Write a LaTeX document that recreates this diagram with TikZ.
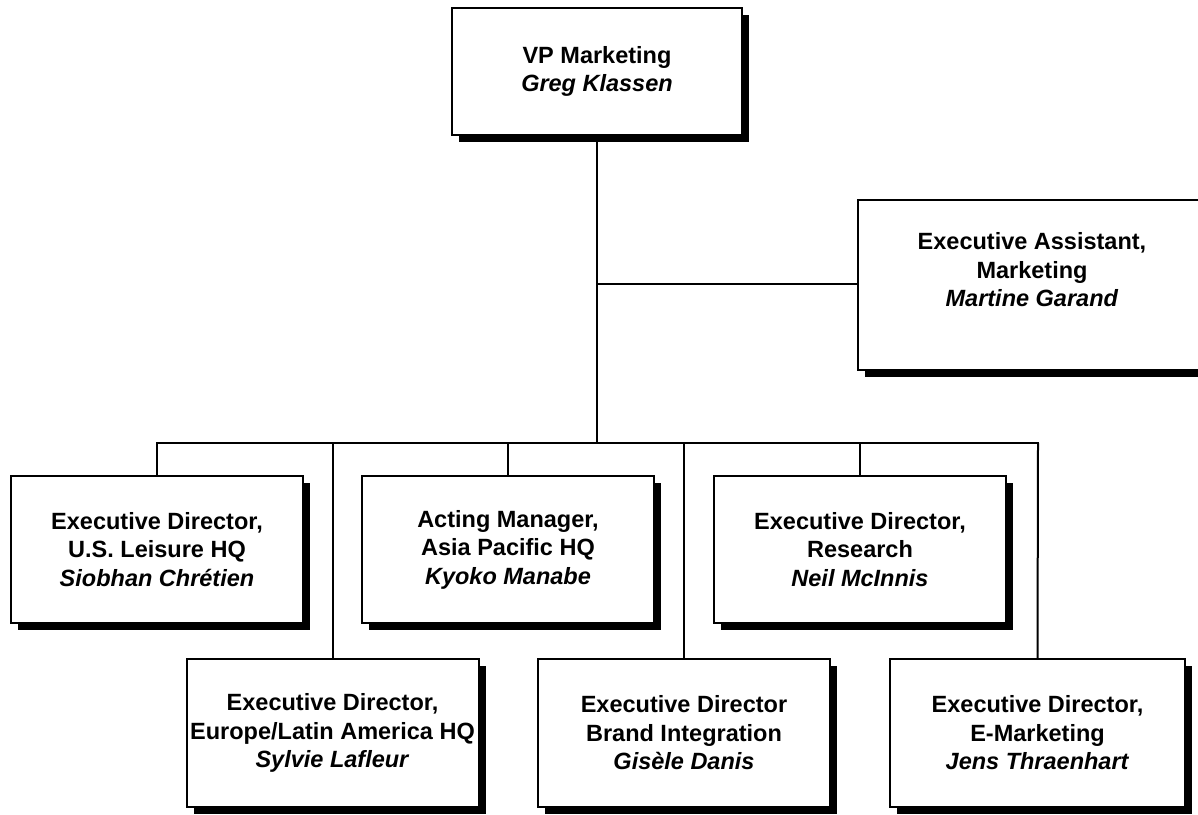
\documentclass[tikz,border=0pt]{standalone}
\usepackage{fontspec}
\setmainfont{Liberation Sans}
\usetikzlibrary{shadows}
\tikzset{
  orgbox/.style={draw=black, line width=2pt, fill=white, rectangle, inner sep=0pt,
    align=center, font=\fontsize{23.5}{28.5}\selectfont\bfseries,
    drop shadow={shadow xshift=7pt, shadow yshift=-7pt, fill=black, opacity=1}},
  orgtext/.style={inner sep=0pt, align=center, font=\fontsize{23.5}{28.5}\selectfont\bfseries},
  link/.style={draw=black, line width=2pt}
}
\newcommand{\who}[1]{\textit{#1}}
\begin{document}
\begin{tikzpicture}[x=1pt,y=-1pt]
\clip (0,0) rectangle (1198,814);
\fill[white] (0,0) rectangle (1198,814);
\coordinate (bus) at (597,443);
\coordinate (busL) at (157,443);
\coordinate (busR) at (1038,443);
\coordinate (ea) at (597,284);
% boxes
\node[orgbox, minimum width=290pt, minimum height=127pt] (vp) at (597,71.5) {VP Marketing\\\who{Greg Klassen}};
\node[orgbox, minimum width=348pt, minimum height=170pt] (asst) at (1032,285) {};
\node[orgtext] (asstText) at (1032,270) {Executive Assistant,\\Marketing\\\who{Martine Garand}};
\node[orgbox, minimum width=292pt, minimum height=147pt] (us) at (157,549.5) {Executive Director,\\U.S. Leisure HQ\\\who{Siobhan Chrétien}};
\node[orgbox, minimum width=292pt, minimum height=147pt] (asia) at (508,549.5) {Acting Manager,\\Asia Pacific HQ\\\who{Kyoko Manabe}};
\node[orgbox, minimum width=292pt, minimum height=147pt] (res) at (860,549.5) {Executive Director,\\Research\\\who{Neil McInnis}};
\node[orgbox, minimum width=292pt, minimum height=148pt] (eu) at (332.5,733) {Executive Director,\\Europe/Latin America HQ\\\who{Sylvie Lafleur}};
\node[orgbox, minimum width=292pt, minimum height=148pt] (brand) at (684,733) {Executive Director\\Brand Integration\\\who{Gisèle Danis}};
\node[orgbox, minimum width=295pt, minimum height=148pt] (emk) at (1037.5,733) {Executive Director,\\E-Marketing\\\who{Jens Thraenhart}};
% connectors
\draw[link] (vp.south) -- (bus);
\draw[link] (ea) -- (asst.west |- ea);
\draw[link, line cap=rect] (busL) -- (busR);
\draw[link] (busL) -- (us.north);
\draw[link] (asia.north |- bus) -- (asia.north);
\draw[link] (res.north |- bus) -- (res.north);
\draw[link] (eu.north |- bus) -- (eu.north);
\draw[link] (brand.north |- bus) -- (brand.north);
\draw[link] (busR) -- (emk.north);
\end{tikzpicture}
\end{document}
